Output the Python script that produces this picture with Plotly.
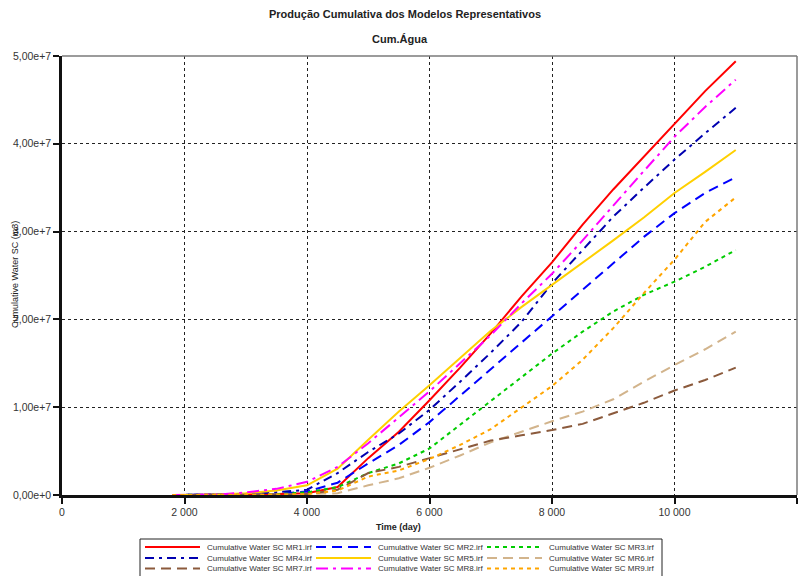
import plotly.graph_objects as go

# ---------------- data (values in m3) ----------------
time_days = [1800, 2500, 3000, 3500, 4000, 4500, 5000, 5500, 6000, 6500,
             7000, 7500, 8000, 8500, 9000, 9500, 10000, 10500, 11000]

E7 = 1e7
mr1 = [0, 0.002, 0.005, 0.01, 0.02, 0.09, 0.42, 0.72, 1.08, 1.45, 1.84, 2.26, 2.65, 3.08, 3.48, 3.85, 4.22, 4.60, 4.94]
mr2 = [0, 0.001, 0.003, 0.01, 0.04, 0.14, 0.36, 0.57, 0.83, 1.13, 1.43, 1.73, 2.03, 2.33, 2.64, 2.94, 3.21, 3.44, 3.62]
mr3 = [0, 0.001, 0.003, 0.01, 0.03, 0.09, 0.25, 0.36, 0.53, 0.80, 1.08, 1.35, 1.61, 1.86, 2.09, 2.28, 2.43, 2.60, 2.79]
mr4 = [0, 0.002, 0.01, 0.03, 0.06, 0.25, 0.49, 0.70, 0.97, 1.29, 1.62, 1.97, 2.41, 2.79, 3.17, 3.50, 3.82, 4.12, 4.41]
mr5 = [0, 0.003, 0.02, 0.05, 0.11, 0.30, 0.63, 0.95, 1.25, 1.56, 1.87, 2.14, 2.39, 2.64, 2.90, 3.16, 3.44, 3.68, 3.93]
mr6 = [0, 0.0, 0.002, 0.005, 0.01, 0.02, 0.11, 0.19, 0.31, 0.45, 0.60, 0.72, 0.84, 0.95, 1.09, 1.29, 1.48, 1.66, 1.86]
mr7 = [0, 0.0, 0.002, 0.005, 0.01, 0.06, 0.25, 0.32, 0.42, 0.52, 0.62, 0.68, 0.74, 0.81, 0.93, 1.05, 1.19, 1.31, 1.45]
mr8 = [0, 0.003, 0.03, 0.07, 0.15, 0.32, 0.59, 0.88, 1.18, 1.50, 1.82, 2.18, 2.52, 2.90, 3.30, 3.69, 4.08, 4.42, 4.73]
mr9 = [0, 0.0, 0.002, 0.005, 0.01, 0.05, 0.21, 0.28, 0.41, 0.57, 0.75, 0.99, 1.24, 1.54, 1.90, 2.30, 2.68, 3.11, 3.39]

series_names = ["Cumulative Water SC MR1.irf", "Cumulative Water SC MR2.irf", "Cumulative Water SC MR3.irf",
                "Cumulative Water SC MR4.irf", "Cumulative Water SC MR5.irf", "Cumulative Water SC MR6.irf",
                "Cumulative Water SC MR7.irf", "Cumulative Water SC MR8.irf", "Cumulative Water SC MR9.irf"]
series_values = [mr1, mr2, mr3, mr4, mr5, mr6, mr7, mr8, mr9]

y_tickvals = [0, 1e7, 2e7, 3e7, 4e7, 5e7]
y_ticktext = ["0,00e+0", "1,00e+7", "2,00e+7", "3,00e+7", "4,00e+7", "5,00e+7"]
x_tickvals = [0, 2000, 4000, 6000, 8000, 10000, 12000]
x_ticktext = ["0", "2 000", "4 000", "6 000", "8 000", "10 000", "12 000"]

# ---------------- styles ----------------
colors = ["#FF0000", "#0000FF", "#00CC00", "#0000B0", "#FFD000",
          "#D2B48C", "#8B5A3C", "#FF00FF", "#FFA500"]
dashes = ["solid", "10px,6px", "4px,4px", "9px,5px,3px,5px", "solid",
          "10px,6px", "10px,6px", "12px,5px,3px,5px", "4px,4px"]

# page body has an 8px margin: work in reference pixel coordinates and shift
OFF = 8
W, H = 807 - OFF, 576 - OFF
L0, R0, T0, B0 = 62, 797, 56, 495   # plot area in reference pixels


def px_x(px):
    return (px - L0) / (R0 - L0)


def px_y(py):
    return (B0 - py) / (B0 - T0)


fig = go.Figure()
for name, vals, c, d in zip(series_names, series_values, colors, dashes):
    fig.add_trace(go.Scatter(
        x=time_days, y=[v * E7 for v in vals], mode="lines", name=name,
        line=dict(color=c, width=2, dash=d),
        hoverinfo="skip", showlegend=False))

FONT = "Liberation Sans, Arial, sans-serif"


def label(text, x, y, size, angle=0, color="#222"):
    return dict(text=text, x=px_x(x), y=px_y(y), xref="paper", yref="paper",
                xanchor="center", yanchor="middle", textangle=angle,
                showarrow=False, font=dict(family=FONT, size=size, color=color))


shapes = [
    dict(type="line", xref="paper", yref="paper", x0=0, x1=1, y0=1, y1=1,
         line=dict(color="#7a7a7a", width=1.5)),
    dict(type="line", xref="paper", yref="paper", x0=1, x1=1, y0=0, y1=1,
         line=dict(color="#7a7a7a", width=1.5)),
    # legend box
    dict(type="rect", xref="paper", yref="paper", x0=px_x(140), x1=px_x(662),
         y0=px_y(585), y1=px_y(539), line=dict(color="#222", width=1),
         fillcolor="white"),
]
annotations = [
    label("<b>Produção Cumulativa dos Modelos Representativos</b>", 405, 14, 11),
    label("<b>Cum.Água</b>", 400, 39, 11),
    label("<b>Time (day)</b>", 398, 527, 9),
    label("Cumulative Water SC (m3)", 15, 275, 9, angle=-90),
]

# manual legend (3 columns x 3 rows)
col_line_x = [145, 316, 487]
row_y = [547, 558, 568.5]
for i, (name, c, d) in enumerate(zip(series_names, colors, dashes)):
    r, k = divmod(i, 3)
    x0 = col_line_x[k]
    yy = px_y(row_y[r])
    shapes.append(dict(type="line", xref="paper", yref="paper", x0=px_x(x0), x1=px_x(x0 + 55),
                       y0=yy, y1=yy, line=dict(color=c, width=2, dash=d)))
    annotations.append(dict(text=name, x=px_x(x0 + 60), y=yy, xanchor="left", yanchor="middle",
                            xref="paper", yref="paper", showarrow=False,
                            font=dict(family=FONT, size=8, color="#333")))

fig.update_layout(
    width=W, height=H,
    margin=dict(l=L0 - OFF, r=W - (R0 - OFF), t=T0 - OFF, b=H - (B0 - OFF), pad=0, autoexpand=False),
    paper_bgcolor="white", plot_bgcolor="white",
    font=dict(family=FONT, size=10.5, color="#333"),
    showlegend=False,
    shapes=shapes, annotations=annotations,
    xaxis=dict(range=[0, 12000], tickvals=x_tickvals, ticktext=x_ticktext, automargin=False,
               showline=True, linecolor="#111", linewidth=2.5,
               ticks="outside", ticklen=6, tickcolor="#111", tickwidth=1.5,
               showgrid=True, gridcolor="#222", gridwidth=1, griddash="3px,3px",
               zeroline=False, tickfont=dict(size=10.5, color="#333")),
    yaxis=dict(range=[0, 5e7], tickvals=y_tickvals, ticktext=y_ticktext, automargin=False,
               showline=True, linecolor="#111", linewidth=2.5,
               ticks="outside", ticklen=6, tickcolor="#111", tickwidth=1.5,
               showgrid=True, gridcolor="#222", gridwidth=1, griddash="3px,3px",
               zeroline=False, tickfont=dict(size=10.5, color="#333")),
)

fig.write_html("out.html")
